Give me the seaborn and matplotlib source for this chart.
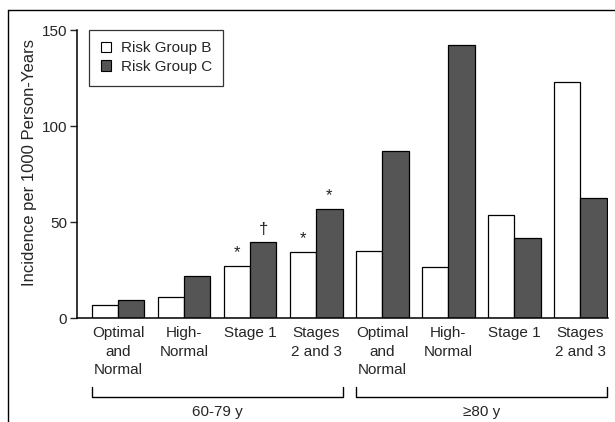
import numpy as np
import pandas as pd
import matplotlib
matplotlib.use("Agg")
import matplotlib.pyplot as plt
import seaborn as sns
from matplotlib.lines import Line2D

# ---- data ----
age_groups = ["60-79 y", "≥80 y"]
categories = ["Optimal\nand\nNormal", "High-\nNormal", "Stage 1", "Stages\n2 and 3"]
risk_groups = ["Risk Group B", "Risk Group C"]
group_b = [6.7, 10.9, 27.0, 34.4, 34.9, 26.4, 53.9, 123.0]
group_c = [9.3, 21.8, 39.5, 57.0, 87.0, 142.0, 41.6, 62.7]
# markers: (bar index, risk group, symbol)
marks = [(2, "Risk Group B", "*"), (2, "Risk Group C", "†"),
         (3, "Risk Group B", "*"), (3, "Risk Group C", "*")]
y_ticks = [0, 50, 100, 150]
y_label = "Incidence per 1000 Person-Years"

keys = [f"{g}|{c}" for g in age_groups for c in categories]
labels = [c for g in age_groups for c in categories]
df = pd.DataFrame({
    "key": keys * 2,
    "risk": [risk_groups[0]] * len(keys) + [risk_groups[1]] * len(keys),
    "value": group_b + group_c,
})

sns.set_style("white")
plt.rcParams["font.family"] = ["Liberation Sans", "DejaVu Sans"]

fig = plt.figure(figsize=(6.15, 4.22), dpi=100)
ax = fig.add_axes([77 / 615, 1 - 318 / 422, (608 - 77) / 615, (318 - 30) / 422])

dark = "#555555"
sns.barplot(data=df, x="key", y="value", hue="risk", order=keys,
            hue_order=risk_groups,
            palette={risk_groups[0]: "white", risk_groups[1]: dark},
            edgecolor="black", linewidth=0.9, width=0.8, ax=ax, legend=True)

ax.set_xlim(-0.62, 7.42)
ax.set_ylim(0, 150)
ax.set_yticks(y_ticks)
ax.set_xticks(range(len(labels)))
ax.set_xticklabels(labels, fontsize=11, linespacing=1.4)
ax.tick_params(axis="x", length=0, pad=6)
ax.tick_params(axis="y", length=5, width=1, labelsize=11, direction="out", left=True, pad=2)
ax.set_xlabel("")
ax.set_ylabel(y_label, fontsize=12)
ax.yaxis.set_label_coords((37 - 77) / 531, (318 - 163) / 288)
for s in ["top", "right"]:
    ax.spines[s].set_visible(False)
for s in ["left", "bottom"]:
    ax.spines[s].set_linewidth(1.1)
    ax.spines[s].set_color("black")

# annotations
cont = {risk_groups[i]: ax.containers[i] for i in range(2)}
for idx, rg, sym in marks:
    p = cont[rg].patches[idx]
    ax.annotate(sym, xy=(p.get_x() + p.get_width() / 2, p.get_height()),
                xytext=(0, 4), textcoords="offset points", ha="center", va="bottom",
                fontsize=12, color="#222222")

# group brackets
trans = ax.get_xaxis_transform()
pb = cont[risk_groups[0]].patches
pc = cont[risk_groups[1]].patches
for gi, g in enumerate(age_groups):
    x0 = pb[gi * 4].get_x()
    x1 = pc[gi * 4 + 3].get_x() + pc[gi * 4 + 3].get_width()
    ax.plot([x0, x0, x1, x1], [-0.240, -0.275, -0.275, -0.240], color="black",
            lw=1.0, transform=trans, clip_on=False)
    ax.text((x0 + x1) / 2, -0.325, g, transform=trans, ha="center", va="center",
            fontsize=11)

# legend
handles = [plt.Rectangle((0, 0), 1, 1, facecolor="white", edgecolor="black", lw=0.8),
           plt.Rectangle((0, 0), 1, 1, facecolor=dark, edgecolor="black", lw=0.8)]
leg = ax.legend(handles, risk_groups, loc="upper left", bbox_to_anchor=(0.023, 1.0),
                fontsize=11, frameon=True, fancybox=False, handlelength=0.7,
                handleheight=0.7, handletextpad=0.6, borderpad=0.75, labelspacing=0.3,
                edgecolor="black", borderaxespad=0)
leg.get_frame().set_linewidth(0.9)

# outer frame of the figure
fig.add_artist(Line2D([8 / 615, 8 / 615], [0, 1 - 10 / 422], color="black", lw=1.0,
                      transform=fig.transFigure))
fig.add_artist(Line2D([8 / 615, 1], [1 - 10 / 422, 1 - 10 / 422], color="black", lw=1.0,
                      transform=fig.transFigure))

fig.savefig("out.png", dpi=100)
